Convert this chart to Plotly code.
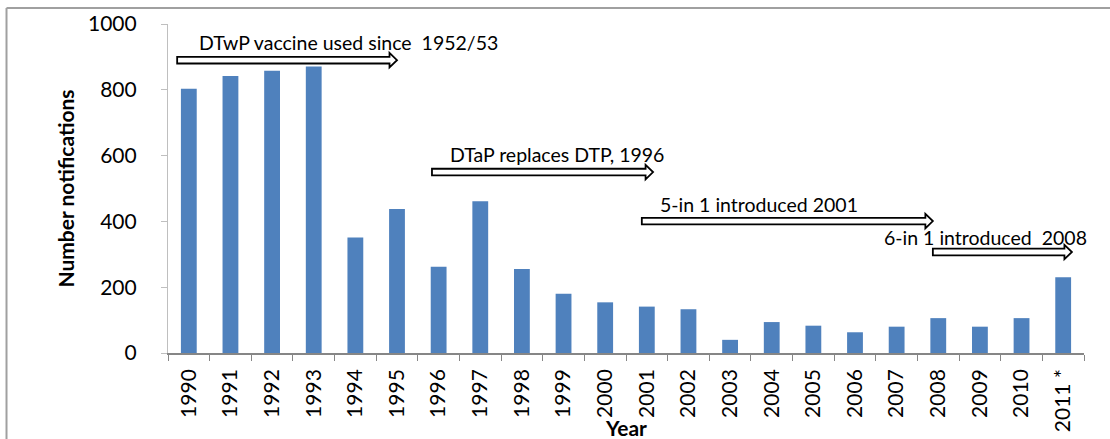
import plotly.graph_objects as go

years = ["1990", "1991", "1992", "1993", "1994", "1995", "1996", "1997", "1998", "1999",
         "2000", "2001", "2002", "2003", "2004", "2005", "2006", "2007", "2008", "2009",
         "2010", "2011 *"]
notifications = [803, 842, 858, 871, 351, 438, 262, 461, 255, 180,
                 154, 141, 133, 40, 94, 83, 63, 80, 106, 80,
                 106, 230]

arrow_labels = ["DTwP vaccine used since  1952/53", "DTaP replaces DTP, 1996",
                "5-in 1 introduced 2001", "6-in 1 introduced  2008"]

# annotation geometry (category-index units on a hidden overlay axis)
arrow_x0 = [-0.28, 5.84, 10.88, 17.87]
arrow_x1 = [5.0, 11.15, 17.87, 21.21]
arrow_y = [890, 550, 401, 307]
label_x = [0.20, 6.22, 11.27, 16.65]
label_y = [945, 602, 450, 350]

BLUE = "#4F81BD"
AXIS = "#868686"
FONT = "Lato"

fig = go.Figure()
fig.add_trace(go.Bar(x=years, y=notifications, marker=dict(color=BLUE, line=dict(width=0)),
                     showlegend=False, hoverinfo="x+y"))

shapes = []
h, H, hl = 10, 22, 0.18
for x0, x1, y in zip(arrow_x0, arrow_x1, arrow_y):
    xh = x1 - hl
    path = (f"M {x0},{y-h} L {xh},{y-h} L {xh},{y-H} L {x1},{y} L {xh},{y+H} "
            f"L {xh},{y+h} L {x0},{y+h} Z")
    shapes.append(dict(type="path", path=path, xref="x2", yref="y",
                       fillcolor="white", line=dict(color="black", width=1.8), layer="above"))

# outer frame lines
shapes.append(dict(type="line", xref="paper", yref="paper", x0=-0.1763, x1=1.1, y0=1.0486, y1=1.0486,
                   line=dict(color="#A0A0A0", width=2)))
shapes.append(dict(type="line", xref="paper", yref="paper", x0=-0.1763, x1=-0.1763, y0=1.0486, y1=-0.3,
                   line=dict(color="#A0A0A0", width=2)))

annotations = []
for t, x, y in zip(arrow_labels, label_x, label_y):
    annotations.append(dict(text=t, x=x, y=y, xref="x2", yref="y", xanchor="left", yanchor="middle",
                            showarrow=False, font=dict(family=FONT, size=19.5, color="black")))
annotations.append(dict(text="<b>Year</b>", x=0.5, y=-0.225, xref="paper", yref="paper",
                        xanchor="center", yanchor="middle", showarrow=False,
                        font=dict(family=FONT, size=21, color="black")))
annotations.append(dict(text="<b>Number notifications</b>", x=-0.1124, y=0.5, xref="paper", yref="paper",
                        xanchor="center", yanchor="middle", textangle=-90, showarrow=False,
                        font=dict(family=FONT, size=21, color="black")))

fig.update_layout(
    width=1110, height=439,
    margin=dict(l=168, r=26, t=24, b=86, autoexpand=False),
    paper_bgcolor="white", plot_bgcolor="white",
    bargap=0.62,
    font=dict(family=FONT, color="black"),
    xaxis=dict(type="category", showgrid=False, zeroline=False, showline=True, linecolor=AXIS, linewidth=1.5,
               ticks="outside", tickson="boundaries", ticklen=6, tickcolor=AXIS, tickwidth=1.2,
               tickangle=-90, tickfont=dict(family=FONT, size=21, color="black"),
               ticklabelstandoff=6, range=[-0.5, 21.5], automargin=False),
    xaxis2=dict(overlaying="x", anchor="y", range=[-0.5, 21.5], visible=False),
    yaxis=dict(range=[0, 1000], tickvals=[0, 200, 400, 600, 800, 1000], showgrid=False, zeroline=False,
               showline=True, linecolor="#BFBFBF", linewidth=1.2, ticks="outside", ticklen=6,
               tickcolor="#BFBFBF", tickfont=dict(family=FONT, size=21, color="black"),
               ticklabelstandoff=20, automargin=False),
    shapes=shapes, annotations=annotations,
)

fig.write_html("out.html", config={"displayModeBar": False},
               post_script="document.body.style.margin='0';document.body.style.overflow='hidden';")
